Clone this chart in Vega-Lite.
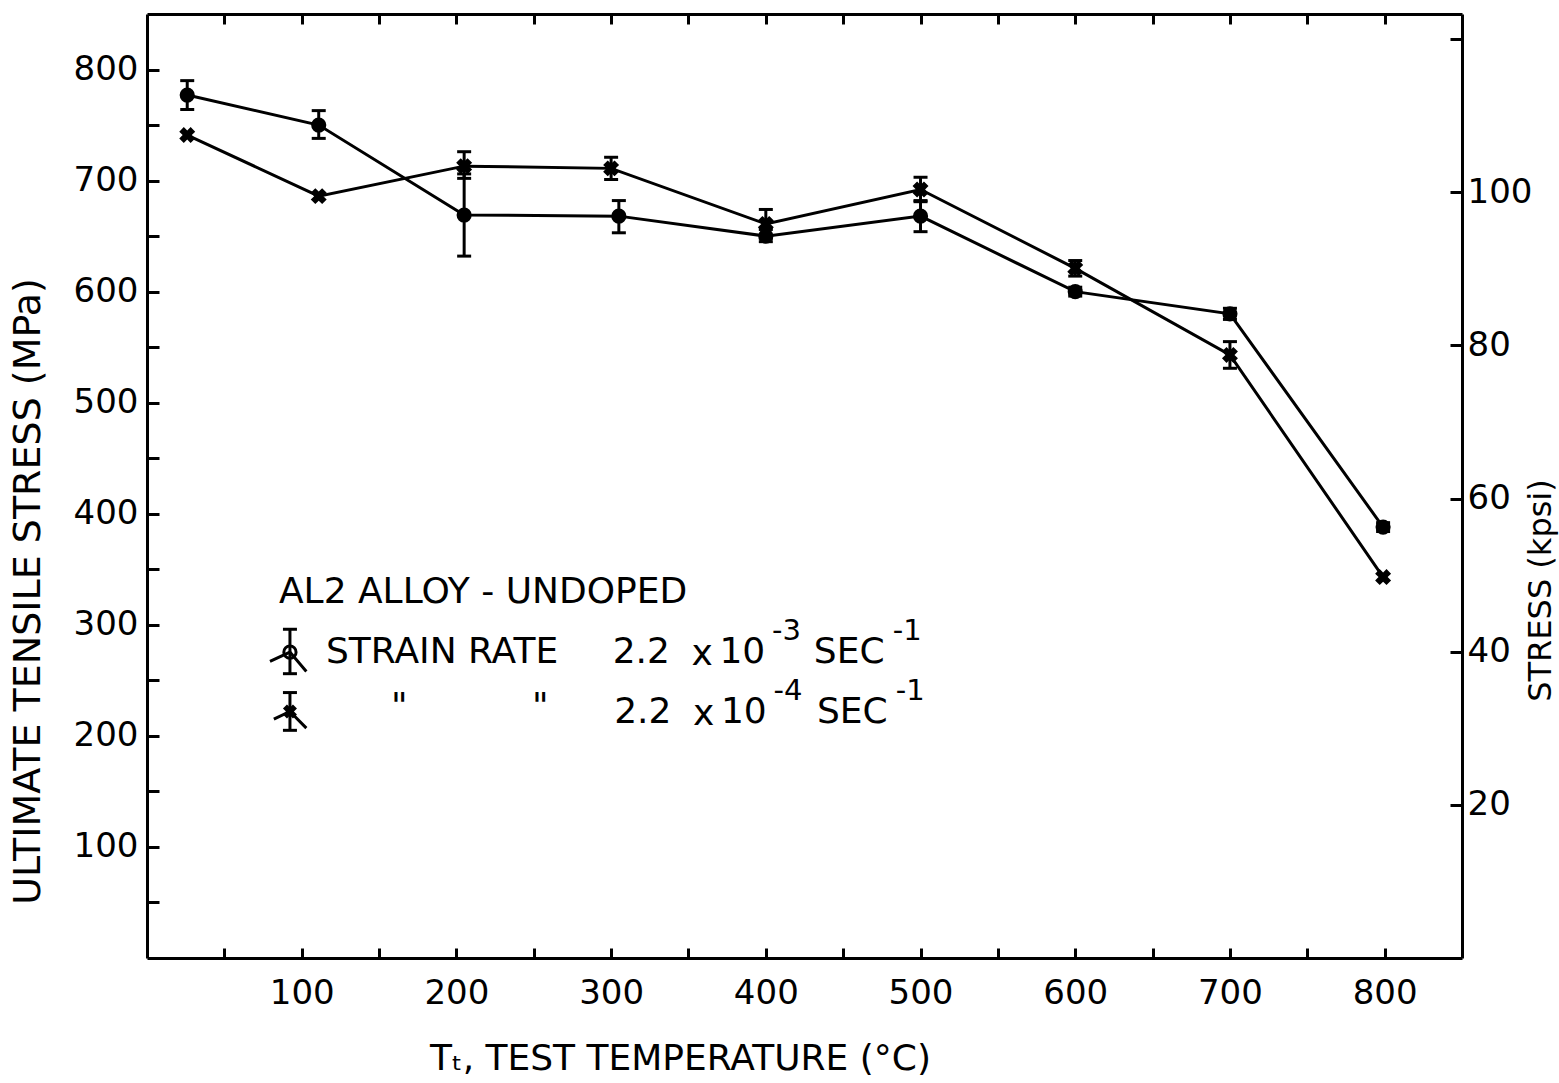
{
  "$schema": "https://vega.github.io/schema/vega-lite/v6.json",
  "width": 1315,
  "height": 944,
  "autosize": "none",
  "padding": {"left": 147, "top": 14, "right": 97, "bottom": 125},
  "background": "white",
  "config": {
    "view": {"stroke": null},
    "axis": {
      "grid": false,
      "domainColor": "black",
      "domainWidth": 3,
      "tickColor": "black",
      "tickWidth": 3,
      "labelFont": "DejaVu Sans",
      "labelFontSize": 34,
      "labelColor": "black",
      "titleFont": "DejaVu Sans",
      "titleFontSize": 36,
      "titleFontWeight": "normal",
      "titleColor": "black"
    }
  },
  "datasets": {
    "pts": [
      {"series": "c", "t": 26, "s": 777, "lo": 764, "hi": 790},
      {"series": "c", "t": 111, "s": 750, "lo": 738, "hi": 763},
      {"series": "c", "t": 205, "s": 669, "lo": 632, "hi": 706},
      {"series": "c", "t": 305, "s": 668, "lo": 653, "hi": 682},
      {"series": "c", "t": 400, "s": 650, "lo": 645, "hi": 656},
      {"series": "c", "t": 500, "s": 668, "lo": 654, "hi": 682},
      {"series": "c", "t": 600, "s": 600, "lo": 596, "hi": 604},
      {"series": "c", "t": 700, "s": 580, "lo": 575, "hi": 585},
      {"series": "c", "t": 799, "s": 388, "lo": 384, "hi": 392},
      {"series": "x", "t": 26, "s": 741, "lo": null, "hi": null},
      {"series": "x", "t": 111, "s": 686, "lo": null, "hi": null},
      {"series": "x", "t": 205, "s": 713, "lo": 702, "hi": 726},
      {"series": "x", "t": 300, "s": 711, "lo": 701, "hi": 721},
      {"series": "x", "t": 400, "s": 661, "lo": 648, "hi": 674},
      {"series": "x", "t": 500, "s": 692, "lo": 681, "hi": 703},
      {"series": "x", "t": 600, "s": 621, "lo": 614, "hi": 628},
      {"series": "x", "t": 700, "s": 543, "lo": 531, "hi": 555},
      {"series": "x", "t": 799, "s": 343, "lo": null, "hi": null}
    ],
    "legsym": [
      {"series": "c", "t": 92.4, "s": 275.4, "lo": 256, "hi": 296},
      {"series": "x", "t": 92.4, "s": 222, "lo": 205, "hi": 239}
    ],
    "leglines": [
      {"grp": "c", "ord": 1, "t": 79.5, "s": 267},
      {"grp": "c", "ord": 2, "t": 92.4, "s": 275.4},
      {"grp": "c", "ord": 3, "t": 103, "s": 258},
      {"grp": "x", "ord": 1, "t": 82, "s": 215},
      {"grp": "x", "ord": 2, "t": 92.4, "s": 222},
      {"grp": "x", "ord": 3, "t": 103, "s": 207}
    ],
    "labels": [
      {"kind": "main", "t": 85.3, "s": 329.6, "text": "AL2 ALLOY - UNDOPED"},
      {"kind": "main", "t": 115.7, "s": 275.5, "text": "STRAIN RATE"},
      {"kind": "main", "t": 301, "s": 275.5, "text": "2.2"},
      {"kind": "main", "t": 352, "s": 273.5, "text": "x"},
      {"kind": "main", "t": 370, "s": 275.5, "text": "10"},
      {"kind": "sup", "t": 404, "s": 294, "text": "-3"},
      {"kind": "main", "t": 431, "s": 275.5, "text": "SEC"},
      {"kind": "sup", "t": 482, "s": 294, "text": "-1"},
      {"kind": "main", "t": 157.7, "s": 226, "text": "\""},
      {"kind": "main", "t": 248.9, "s": 226, "text": "\""},
      {"kind": "main", "t": 302, "s": 221.5, "text": "2.2"},
      {"kind": "main", "t": 353, "s": 219.5, "text": "x"},
      {"kind": "main", "t": 371, "s": 221.5, "text": "10"},
      {"kind": "sup", "t": 405, "s": 240, "text": "-4"},
      {"kind": "main", "t": 433, "s": 221.5, "text": "SEC"},
      {"kind": "sup", "t": 484, "s": 240, "text": "-1"}
    ],
    "frame": [
      {"t": 0, "kpsi": 0},
      {"t": 850, "kpsi": 123.28}
    ]
  },
  "layer": [
    {
      "encoding": {
        "x": {
          "field": "t", "type": "quantitative",
          "scale": {"domain": [0, 850], "nice": false, "zero": false},
          "axis": {
            "orient": "bottom",
            "values": [50, 100, 150, 200, 250, 300, 350, 400, 450, 500, 550, 600, 650, 700, 750, 800],
            "labelExpr": "datum.value % 100 === 0 ? datum.label : ''",
            "tickSize": -10,
            "labelPadding": 28,
            "title": "Tₜ, TEST TEMPERATURE (°C)",
            "titleX": 533,
            "titleY": 100,
            "titleBaseline": "middle"
          }
        },
        "y": {
          "field": "s", "type": "quantitative",
          "scale": {"domain": [0, 850], "nice": false, "zero": false},
          "axis": {
            "orient": "left",
            "values": [50, 100, 150, 200, 250, 300, 350, 400, 450, 500, 550, 600, 650, 700, 750, 800],
            "labelExpr": "datum.value % 100 === 0 ? datum.label : ''",
            "tickSize": -12,
            "labelPadding": 21,
            "title": "ULTIMATE TENSILE STRESS (MPa)",
            "titleFontSize": 38,
            "titleX": -119,
            "titleY": 577,
            "titleAngle": -90,
            "titleBaseline": "middle"
          }
        }
      },
      "layer": [
        {
          "data": {"name": "pts"},
          "mark": {"type": "line", "color": "black", "strokeWidth": 3},
          "encoding": {
            "detail": {"field": "series"},
            "order": {"field": "t", "type": "quantitative"}
          }
        },
        {
          "data": {"name": "pts"},
          "transform": [{"filter": "isValid(datum.lo)"}],
          "mark": {"type": "errorbar", "ticks": {"color": "black", "opacity": 1}, "rule": {"color": "black", "opacity": 1}, "thickness": 3, "size": 14, "color": "black"},
          "encoding": {
            "y": {"field": "lo", "type": "quantitative"},
            "y2": {"field": "hi"}
          }
        },
        {
          "data": {"name": "pts"},
          "transform": [{"filter": "datum.series === 'c'"}],
          "mark": {"type": "point", "shape": "circle", "filled": true, "color": "black", "size": 230, "opacity": 1}
        },
        {
          "data": {"name": "pts"},
          "transform": [{"filter": "datum.series === 'x'"}],
          "mark": {"type": "point", "shape": "cross", "angle": 45, "filled": true, "color": "black", "size": 260, "opacity": 1}
        },
        {
          "data": {"name": "leglines"},
          "mark": {"type": "line", "color": "black", "strokeWidth": 3},
          "encoding": {
            "detail": {"field": "grp"},
            "order": {"field": "ord", "type": "quantitative"}
          }
        },
        {
          "data": {"name": "legsym"},
          "mark": {"type": "errorbar", "ticks": {"color": "black", "opacity": 1}, "rule": {"color": "black", "opacity": 1}, "thickness": 3, "size": 14, "color": "black"},
          "encoding": {
            "y": {"field": "lo", "type": "quantitative"},
            "y2": {"field": "hi"}
          }
        },
        {
          "data": {"name": "legsym"},
          "transform": [{"filter": "datum.series === 'c'"}],
          "mark": {"type": "point", "shape": "circle", "filled": false, "color": "black", "strokeWidth": 3, "size": 150, "opacity": 1}
        },
        {
          "data": {"name": "legsym"},
          "transform": [{"filter": "datum.series === 'x'"}],
          "mark": {"type": "point", "shape": "cross", "angle": 45, "filled": true, "color": "black", "size": 200, "opacity": 1}
        },
        {
          "data": {"name": "labels"},
          "transform": [{"filter": "datum.kind === 'main'"}],
          "mark": {"type": "text", "font": "DejaVu Sans", "fontSize": 36, "align": "left", "baseline": "middle", "color": "black"},
          "encoding": {"text": {"field": "text"}}
        },
        {
          "data": {"name": "labels"},
          "transform": [{"filter": "datum.kind === 'sup'"}],
          "mark": {"type": "text", "font": "DejaVu Sans", "fontSize": 29, "align": "left", "baseline": "middle", "color": "black"},
          "encoding": {"text": {"field": "text"}}
        }
      ]
    },
    {
      "data": {"name": "frame"},
      "mark": {"type": "point", "opacity": 0},
      "encoding": {
        "x": {
          "field": "t", "type": "quantitative",
          "scale": {"domain": [0, 850], "nice": false, "zero": false},
          "axis": {
            "orient": "top",
            "values": [50, 100, 150, 200, 250, 300, 350, 400, 450, 500, 550, 600, 650, 700, 750, 800],
            "labels": false,
            "tickSize": -10,
            "title": null
          }
        },
        "y": {
          "field": "kpsi", "type": "quantitative",
          "scale": {"domain": [0, 123.28], "nice": false, "zero": false},
          "axis": {
            "orient": "right",
            "values": [20, 40, 60, 80, 100, 120],
            "labelExpr": "datum.value <= 100 ? datum.label : ''",
            "tickSize": -12,
            "labelPadding": 17,
            "title": "STRESS (kpsi)",
            "titleFontSize": 32,
            "titleX": 78,
            "titleY": 576,
            "titleAngle": -90,
            "titleBaseline": "middle"
          }
        }
      }
    }
  ],
  "resolve": {
    "scale": {"y": "independent"},
    "axis": {"x": "independent", "y": "independent"}
  }
}
